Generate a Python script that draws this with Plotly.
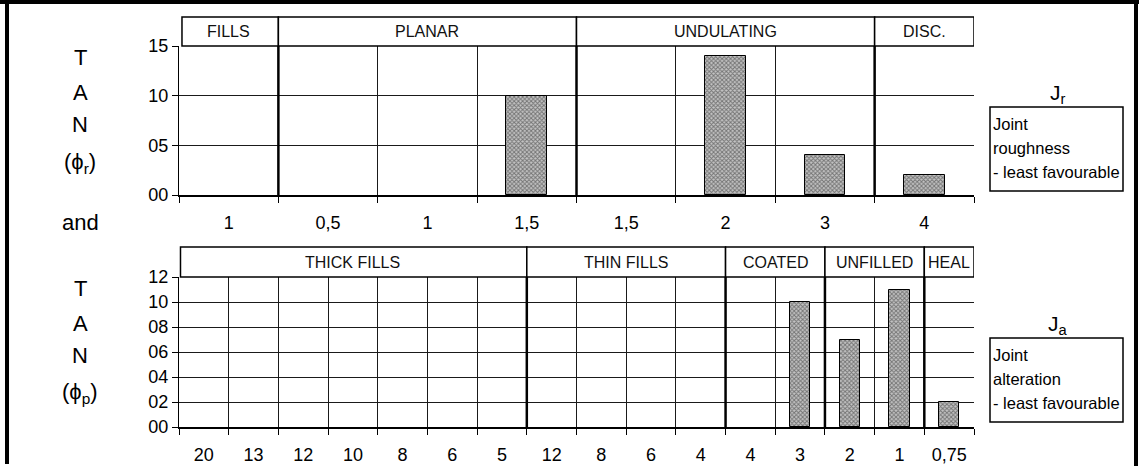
import plotly.graph_objects as go

W, H = 1139, 466

# ---- Joint roughness panel (Jr) ----
jr_labels = ["1", "0,5", "1", "1,5", "1,5", "2", "3", "4"]
jr_tan = [None, None, None, 10, None, 14, 4, 2]
jr_group_names = ["FILLS", "PLANAR", "UNDULATING", "DISC."]
jr_group_sizes = [1, 3, 3, 1]
jr_yticks = [0, 5, 10, 15]
jr_yticktext = ["00", "05", "10", "15"]

# ---- Joint alteration panel (Ja) ----
ja_labels = ["20", "13", "12", "10", "8", "6", "5", "12", "8", "6", "4",
             "4", "3", "2", "1", "0,75"]
ja_tan = [None, None, None, None, None, None, None, None, None, None, None,
          None, 10, 7, 11, 2]
ja_group_names = ["THICK FILLS", "THIN FILLS", "COATED", "UNFILLED", "HEAL"]
ja_group_sizes = [7, 4, 2, 2, 1]
ja_yticks = [0, 2, 4, 6, 8, 10, 12]
ja_yticktext = ["00", "02", "04", "06", "08", "10", "12"]

SANS = "Liberation Sans, Arial, sans-serif"

fig = go.Figure()
shapes = []
annotations = []


def px_x(p):
    return p / W


def px_y(p):
    return 1 - p / H


def add_panel(idx, labels, values, names, sizes, yticks, ytext, top_px, bottom_px, hdr_px):
    xa = "x" if idx == 1 else f"x{idx}"
    ya = "y" if idx == 1 else f"y{idx}"
    n = len(labels)
    xs = list(range(n))
    fig.add_trace(go.Bar(
        x=xs, y=values, width=0.41, xaxis=xa, yaxis=ya, showlegend=False,
        marker=dict(color="#a0a0a0",
                    line=dict(color="black", width=1),
                    pattern=dict(shape="x", size=3, solidity=0.55,
                                 fgcolor="#262626", bgcolor="#c4c4c4")),
    ))
    hdr = hdr_px / (bottom_px - top_px)
    xkey = "xaxis" if idx == 1 else f"xaxis{idx}"
    ykey = "yaxis" if idx == 1 else f"yaxis{idx}"
    fig.update_layout(**{
        xkey: dict(
            domain=[px_x(179), px_x(974)], anchor=ya, automargin=False,
            range=[-0.5, n - 0.5], tickmode="array", tickvals=xs, ticktext=labels,
            ticks="outside", ticklen=10, tickcolor="rgba(0,0,0,0)",
            showgrid=False, zeroline=False, showline=True, linecolor="black", linewidth=2,
            tickfont=dict(family=SANS, size=18, color="black"),
            minor=dict(tickmode="array", tickvals=[i - 0.5 for i in range(n + 1)],
                       ticks="outside", ticklen=6, tickcolor="black", tickwidth=1,
                       showgrid=True, gridcolor="#1a1a1a", gridwidth=1),
            fixedrange=True,
        ),
        ykey: dict(
            domain=[px_y(bottom_px), px_y(top_px)], anchor=xa, automargin=False,
            range=[0, yticks[-1]], tickmode="array", tickvals=yticks, ticktext=ytext,
            ticks="outside", ticklen=6, tickcolor="black", tickwidth=1,
            showgrid=True, gridcolor="#1a1a1a", gridwidth=1, zeroline=False,
            showline=True, linecolor="black", linewidth=1,
            tickfont=dict(family=SANS, size=18, color="black"),
            fixedrange=True,
        ),
    })
    yd = f"{ya} domain"
    start = 0
    for name, size in zip(names, sizes):
        end = start + size
        left = start - 0.47 if start == 0 else start - 0.5
        shapes.append(dict(type="rect", xref=xa, yref=yd, x0=left, x1=end - 0.5,
                           y0=1, y1=1 + hdr, line=dict(color="black", width=1.5),
                           fillcolor="white", layer="above"))
        annotations.append(dict(xref=xa, yref=yd, x=(start + end - 1) / 2, y=1 + hdr / 2,
                                xanchor="center", yanchor="middle",
                                text=name, showarrow=False,
                                font=dict(family=SANS, size=16, color="#111")))
        if 0 < start:
            shapes.append(dict(type="line", xref=xa, yref=yd, x0=start - 0.5, x1=start - 0.5,
                               y0=0, y1=1, line=dict(color="black", width=2.5),
                               layer="above"))
        start = end


add_panel(1, jr_labels, jr_tan, jr_group_names, jr_group_sizes,
          jr_yticks, jr_yticktext, 46, 195, 29)
add_panel(2, ja_labels, ja_tan, ja_group_names, ja_group_sizes,
          ja_yticks, ja_yticktext, 277, 427, 30)

# left-hand axis captions
left_text = [("T", 57), ("A", 92), ("N", 124), ("(ϕ<sub>r</sub>)", 163), ("and", 222),
             ("T", 288), ("A", 323), ("N", 355), ("(ϕ<sub>p</sub>)", 393)]
for txt, yc in left_text:
    annotations.append(dict(xref="paper", yref="paper", x=px_x(80), y=px_y(yc),
                            xanchor="center", yanchor="middle",
                            text=txt, showarrow=False,
                            font=dict(family=SANS, size=22, color="black")))

# right-hand parameter boxes
boxes = [
    ("J<sub>r</sub>", ["Joint", "roughness", "- least favourable"], 107, 191),
    ("J<sub>a</sub>", ["Joint", "alteration", "- least favourable"], 338, 422),
]
for sym, lines, y0, y1 in boxes:
    shapes.append(dict(type="rect", xref="paper", yref="paper",
                       x0=px_x(990), x1=px_x(1123), y0=px_y(y1), y1=px_y(y0),
                       line=dict(color="black", width=1.5)))
    annotations.append(dict(xref="paper", yref="paper", x=px_x(1058), y=px_y(y0 - 13),
                            xanchor="center", yanchor="middle",
                            text=sym, showarrow=False,
                            font=dict(family=SANS, size=21, color="black")))
    for j, line in enumerate(lines):
        annotations.append(dict(xref="paper", yref="paper", x=px_x(991), xanchor="left",
                                y=px_y(y0 + 17 + 24 * j), yanchor="middle",
                                text=line, showarrow=False,
                                font=dict(family=SANS, size=16.5, color="black")))

# outer frame
for x0, y0, x1, y1 in [(7, 0, 7, 464), (0, 2, 1139, 2), (1136, 0, 1136, 466)]:
    shapes.append(dict(type="line", xref="paper", yref="paper",
                       x0=px_x(x0), x1=px_x(x1), y0=px_y(y0), y1=px_y(y1),
                       line=dict(color="black", width=4)))

fig.update_layout(
    width=W, height=H, autosize=False,
    margin=dict(l=0, r=0, t=0, b=0, autoexpand=False),
    paper_bgcolor="white", plot_bgcolor="white",
    shapes=shapes, annotations=annotations,
    bargap=0, showlegend=False,
)

fig.write_html("out.html")
